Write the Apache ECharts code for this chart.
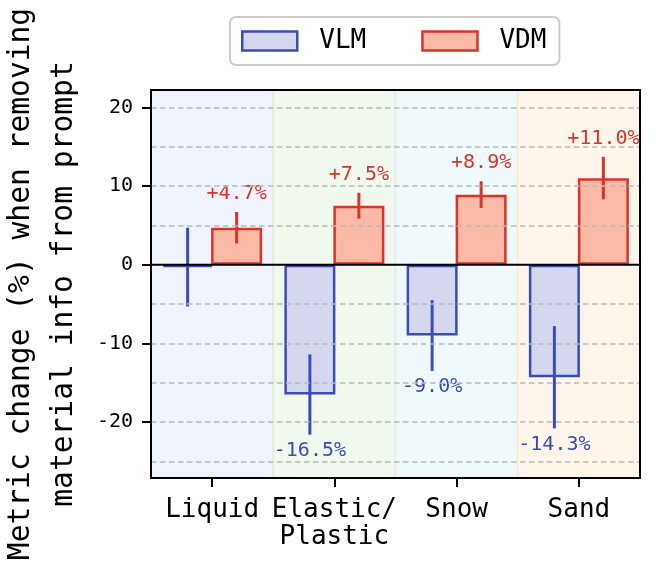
<!DOCTYPE html>
<html>
<head>
<meta charset="utf-8">
<script src="https://cdn.jsdelivr.net/npm/echarts@6/dist/echarts.min.js"></script>
<style>
  html, body { margin: 0; padding: 0; background: #fff; }
  #chart { width: 659px; height: 572px; }
</style>
</head>
<body>
<div id="chart"></div>
<script>
const categories = ['Liquid', 'Elastic/\nPlastic', 'Snow', 'Sand'];
const vlmValues = [-0.3, -16.5, -9.0, -14.3];
const vlmErrors = [5.0, 5.1, 4.5, 6.5];
const vdmValues = [4.7, 7.5, 8.9, 11.0];
const vdmErrors = [2.0, 1.65, 1.7, 2.7];
const vlmLabels = ['', '-16.5%', '-9.0%', '-14.3%'];
const vdmLabels = ['+4.7%', '+7.5%', '+8.9%', '+11.0%'];
const yLabelValues = [-20, -10, 0, 10, 20];
const gridValues = [-25, -20, -15, -10, -5, 5, 10, 15, 20];
const bandColors = ['#eff3fb', '#f0f7ed', '#eff8fb', '#fdf5ea'];
const bandEdges = ['#e4ebf7', '#e2efde', '#e1eff3', '#f7ebd9'];

const FONT = '"DejaVu Sans Mono", "Liberation Mono", monospace';
const BLUE = '#3a4db5';
const BLUE_FILL = '#d5d7ee';
const RED = '#d9342b';
const RED_FILL = '#fbbaa6';
const BAR_W = 51;       // visual bar width (border drawn inside)
const BAR_STEP = 49;    // distance between the two bar centres
const TICK_LEN = 9;
const Y_MIN = -27.1;
const Y_MAX = 22.2;

const chart = echarts.init(document.getElementById('chart'));

function errorSeries(values, errors, labels, color, side, below) {
  return {
    type: 'custom',
    z: 4,
    silent: true,
    data: values.map((v, i) => [i, v, errors[i]]),
    renderItem: function (params, api) {
      const idx = api.value(0);
      const v = api.value(1);
      const e = api.value(2);
      const hi = api.coord([idx, v + e]);
      const lo = api.coord([idx, v - e]);
      const x = hi[0] + side * BAR_STEP / 2;
      const children = [{
        type: 'line',
        shape: { x1: x, y1: hi[1], x2: x, y2: lo[1] },
        style: { stroke: color, lineWidth: 3 }
      }];
      const text = labels[params.dataIndex];
      if (text) {
        children.push({
          type: 'text',
          x: x,
          y: below ? lo[1] + 16 : hi[1] - 18,
          style: { text: text, fill: color, font: '20px ' + FONT, align: 'center', verticalAlign: 'middle' }
        });
      }
      return { type: 'group', children: children };
    }
  };
}

const option = {
  animation: false,
  grid: { left: 151, right: 19, top: 90, bottom: 94, outerBoundsMode: 'none', containLabel: false },
  legend: {
    data: [
      { name: 'VLM', itemStyle: { color: BLUE_FILL, borderColor: BLUE, borderWidth: 2.5 } },
      { name: 'VDM', itemStyle: { color: RED_FILL, borderColor: RED, borderWidth: 2.5 } }
    ],
    left: 230, top: 17, icon: 'rect', itemWidth: 55, itemHeight: 19, itemGap: 55,
    padding: [11, 13, 11, 11],
    backgroundColor: '#fff', borderColor: '#cccccc', borderWidth: 2, borderRadius: 6,
    textStyle: { fontFamily: FONT, fontSize: 26, color: '#000', padding: [0, 0, 0, 17] }
  },
  xAxis: {
    type: 'category',
    data: categories,
    axisLine: { show: true, onZero: false, lineStyle: { color: '#000', width: 2 } },
    axisTick: { show: true, alignWithLabel: true, length: TICK_LEN, lineStyle: { color: '#000', width: 2 } },
    axisLabel: { interval: 0, hideOverlap: false, margin: 19, color: '#000', fontFamily: FONT, fontSize: 26, lineHeight: 27 },
    splitLine: { show: false }
  },
  yAxis: {
    type: 'value',
    min: Y_MIN,
    max: Y_MAX,
    name: 'Metric change (%) when removing\nmaterial info from prompt',
    nameLocation: 'middle',
    nameRotate: 90,
    nameGap: 45,
    nameTextStyle: { fontFamily: FONT, fontSize: 29.6, lineHeight: 43, color: '#000' },
    axisLine: { show: true, lineStyle: { color: '#000', width: 2 } },
    axisTick: { show: true, length: TICK_LEN, customValues: yLabelValues, lineStyle: { color: '#000', width: 2 } },
    axisLabel: { customValues: yLabelValues, margin: 18, color: '#000', fontFamily: FONT, fontSize: 20 },
    splitLine: { show: false }
  },
  series: [
    {
      name: 'bands', type: 'custom', z: 0, silent: true,
      data: categories.map((c, i) => [i, 0]),
      renderItem: function (params, api) {
        const i = params.dataIndex;
        const c = api.coord([api.value(0), 0]);
        const w = api.size([1, 0])[0];
        const cs = params.coordSys;
        return {
          type: 'rect',
          shape: { x: c[0] - w / 2, y: cs.y, width: w, height: cs.height },
          style: { fill: bandColors[i], stroke: bandEdges[i], lineWidth: 2 }
        };
      }
    },
    {
      name: 'grid', type: 'line', data: [], z: 1, silent: true,
      markLine: {
        silent: true, symbol: 'none', label: { show: false },
        lineStyle: { color: '#bbbbbb', width: 1.5, type: [5.5, 3.5] },
        data: gridValues.map(v => ({ yAxis: v }))
      }
    },
    {
      name: 'VLM', type: 'bar', z: 2, barWidth: BAR_W,
      barGap: ((BAR_STEP - BAR_W) / BAR_W * 100) + '%',
      data: vlmValues,
      itemStyle: { color: BLUE_FILL, borderColor: BLUE, borderWidth: 2.5 }
    },
    {
      name: 'VDM', type: 'bar', z: 2, barWidth: BAR_W,
      barGap: ((BAR_STEP - BAR_W) / BAR_W * 100) + '%',
      data: vdmValues,
      itemStyle: { color: RED_FILL, borderColor: RED, borderWidth: 2.5 }
    },
    errorSeries(vlmValues, vlmErrors, vlmLabels, BLUE, -1, true),
    errorSeries(vdmValues, vdmErrors, vdmLabels, RED, 1, false),
    {
      // zero line and plot frame, drawn above the bands
      name: 'frame', type: 'custom', z: 6, silent: true, clip: false,
      data: [[0, 0]],
      renderItem: function (params, api) {
        const p = api.coord([0, 0]);
        const cs = params.coordSys;
        return {
          type: 'group',
          children: [{
            type: 'line',
            shape: { x1: cs.x, y1: p[1], x2: cs.x + cs.width, y2: p[1] },
            style: { stroke: '#000', lineWidth: 2 }
          }, {
            type: 'rect',
            shape: { x: cs.x, y: cs.y, width: cs.width, height: cs.height },
            style: { fill: 'none', stroke: '#000', lineWidth: 2 }
          }]
        };
      }
    }
  ]
};

chart.setOption(option);
</script>
</body>
</html>
